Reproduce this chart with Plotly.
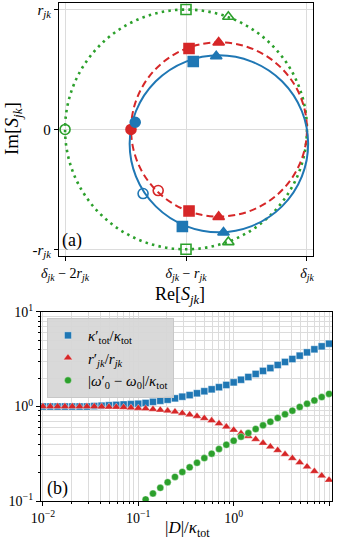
import plotly.graph_objects as go

# ---- panel (a): circles in the complex plane (units of r_jk, delta_jk = 0)
circle_names = ["green", "red", "blue"]
circle_cx = [-1.0, -0.727, -0.728]
circle_cy = [0.0, 0.0, -0.12]
circle_r = [1.0, 0.727, 0.738]

green_x = [-2.0, -1.0, -1.0, -0.65, -0.65]
green_y = [0.0, 1.0, -1.0, 0.94, -0.94]
green_sym = ["circle-open", "square-open", "square-open", "triangle-up-open", "triangle-up-open"]

red_x = [-1.455, -0.975, -0.975, -0.73, -0.73, -1.23]
red_y = [0.0, 0.675, -0.68, 0.725, -0.73, -0.51]
red_sym = ["circle", "square", "square", "triangle-up", "triangle-up", "circle-open"]

blue_x = [-1.42, -0.94, -1.03, -0.75, -0.69, -1.355]
blue_y = [0.06, 0.567, -0.81, 0.61, -0.86, -0.535]
blue_sym = ["circle", "square", "square", "triangle-up", "triangle-up", "circle-open"]

# ---- panel (b): ratios vs |D|/kappa_tot
D_over_kappa = [0.0100, 0.01194, 0.01425, 0.01701, 0.02031, 0.02424, 0.02894, 0.03455,
                0.04125, 0.04924, 0.05878, 0.07017, 0.08377, 0.1000, 0.1194, 0.1425,
                0.1701, 0.2031, 0.2424, 0.2894, 0.3455, 0.4125, 0.4924, 0.5878,
                0.7017, 0.8377, 1.000, 1.194, 1.425, 1.701, 2.031, 2.424,
                2.894, 3.455, 4.125, 4.924, 5.878, 7.017, 8.377, 10.00]
kappa_ratio = [1.0, 1.0, 1.0, 1.0, 1.0, 1.0, 1.0, 1.01, 1.02, 1.03,
               1.04, 1.05, 1.06, 1.07, 1.09, 1.12, 1.15, 1.18, 1.22, 1.27,
               1.32, 1.38, 1.45, 1.52, 1.60, 1.69, 1.80, 1.92, 2.05, 2.21,
               2.38, 2.55, 2.75, 2.96, 3.18, 3.45, 3.74, 4.03, 4.33, 4.62]
r_ratio = [1.0, 1.0, 1.0, 1.0, 1.0, 1.0, 1.0, 1.0, 0.995, 0.99,
           0.985, 0.98, 0.97, 0.96, 0.95, 0.935, 0.92, 0.90, 0.88, 0.85,
           0.82, 0.79, 0.75, 0.71, 0.66, 0.61, 0.565, 0.52, 0.485, 0.45,
           0.41, 0.376, 0.344, 0.312, 0.283, 0.255, 0.231, 0.206, 0.185, 0.167]
shift_x = D_over_kappa[14:]
shift_ratio = [0.104, 0.120, 0.138, 0.158, 0.180, 0.203, 0.227, 0.254, 0.285, 0.317,
               0.355, 0.394, 0.434, 0.479, 0.524, 0.578, 0.632, 0.690, 0.755, 0.826,
               0.903, 0.989, 1.07, 1.16, 1.26, 1.36]

BLUE, RED, GREEN = "#1f77b4", "#d62728", "#2ca02c"
FONT = "Liberation Serif"
GRID = "#dcdcdc"

fig = go.Figure()

# circles drawn as shapes on the data axes
styles = {"green": dict(color=GREEN, width=2.6, dash="2.5px,4.2px"),
          "red": dict(color=RED, width=2, dash="7px,4px"),
          "blue": dict(color=BLUE, width=2, dash="solid")}
for name, cx, cy, r in zip(circle_names, circle_cx, circle_cy, circle_r):
    fig.add_shape(type="circle", xref="x", yref="y", x0=cx - r, x1=cx + r,
                  y0=cy - r, y1=cy + r, line=styles[name], layer="between")

for xs, ys, syms, col in [(green_x, green_y, green_sym, GREEN),
                          (red_x, red_y, red_sym, RED),
                          (blue_x, blue_y, blue_sym, BLUE)]:
    fig.add_trace(go.Scatter(x=xs, y=ys, mode="markers", showlegend=False,
                             marker=dict(symbol=syms, size=10, color=col,
                                         line=dict(color=col, width=1.6)),
                             xaxis="x", yaxis="y", cliponaxis=False))

mk_line = dict(color="rgba(255,255,255,0.6)", width=0.6)
fig.add_trace(go.Scatter(x=D_over_kappa, y=kappa_ratio, mode="markers",
                         name="<i>κ</i>′<sub>tot</sub>/<i>κ</i><sub>tot</sub>",
                         marker=dict(symbol="square", size=7, color=BLUE, line=mk_line),
                         xaxis="x2", yaxis="y2"))
fig.add_trace(go.Scatter(x=D_over_kappa, y=r_ratio, mode="markers",
                         name="<i>r</i>′<sub><i>jk</i></sub>/<i>r</i><sub><i>jk</i></sub>",
                         marker=dict(symbol="triangle-up", size=8, color=RED, line=mk_line),
                         xaxis="x2", yaxis="y2"))
fig.add_trace(go.Scatter(x=shift_x, y=shift_ratio, mode="markers",
                         name="|<i>ω</i>′<sub>0</sub> − <i>ω</i><sub>0</sub>|/<i>κ</i><sub>tot</sub>",
                         marker=dict(symbol="circle", size=7, color=GREEN, line=mk_line),
                         xaxis="x2", yaxis="y2"))


def axis(size, **kw):
    base = dict(showline=True, linecolor="black", linewidth=1.3, mirror=True,
                ticks="outside", ticklen=4, tickcolor="black", tickwidth=1,
                showgrid=True, gridcolor=GRID, gridwidth=1, zeroline=False,
                automargin=False, tickfont=dict(family=FONT, size=size, color="black"))
    base.update(kw)
    return base


def label(text, px, py, size, **kw):
    # place text centred on a pixel position of the 338x541 canvas
    return dict(text=text, x=px / 338, y=1 - py / 541, xref="paper", yref="paper",
                xanchor="center", yanchor="middle", showarrow=False,
                font=dict(family=FONT, size=size, color="black"), **kw)


minor_x = [m * 10.0 ** e for e in (-2, -1, 0) for m in range(2, 10)]
minor_y = [m * 10.0 ** e for e in (-1, 0) for m in range(2, 10)]
minor_style = dict(ticks="outside", ticklen=2, tickcolor="black", showgrid=True, gridcolor=GRID)

fig.update_layout(
    width=338, height=541, margin=dict(l=0, r=0, t=0, b=0),
    paper_bgcolor="white", plot_bgcolor="white",
    font=dict(family=FONT, size=15, color="black"),
    xaxis=axis(14, domain=[0.1746, 0.926], range=[-2.05, 0.05], anchor="y",
               tickvals=[-2, -1, 0],
               ticktext=["<i>δ<sub>jk</sub></i> − 2<i>r<sub>jk</sub></i>",
                         "<i>δ<sub>jk</sub></i> − <i>r<sub>jk</sub></i>",
                         "<i>δ<sub>jk</sub></i>"]),
    yaxis=axis(15, domain=[0.527, 0.9945], range=[-1.055, 1.055], anchor="x",
               tickvals=[-1, 0, 1],
               ticktext=["-<i>r<sub>jk</sub></i>", "0", "<i>r<sub>jk</sub></i>"]),
    xaxis2=axis(14, domain=[0.1213, 0.982], type="log", range=[-2.02, 1.03], anchor="y2",
                tickvals=[0.01, 0.1, 1, 10],
                ticktext=["10<sup>−2</sup>", "10<sup>−1</sup>", "10<sup>0</sup>", "10<sup>1</sup>"],
                minor=dict(tickvals=minor_x, **minor_style)),
    yaxis2=axis(14, domain=[0.0739, 0.4233], type="log", range=[-1, 1], anchor="x2",
                tickvals=[0.1, 1, 10],
                ticktext=["10<sup>−1</sup>", "10<sup>0</sup>", "10<sup>1</sup>"],
                minor=dict(tickvals=minor_y, **minor_style)),
    legend=dict(x=0.139, y=0.412, xanchor="left", yanchor="top",
                bgcolor="rgba(214,214,214,0.92)", bordercolor="#c8c8c8", borderwidth=1,
                font=dict(family=FONT, size=15), tracegroupgap=0),
    annotations=[
        label("Re[<i>S<sub>jk</sub></i>]", 180, 295, 18),
        label("Im[<i>S<sub>jk</sub></i>]", 13, 129, 19, textangle=-90),
        label("|<i>D</i>|/<i>κ</i><sub>tot</sub>", 187, 529, 17),
        label("(a)", 72, 240, 18),
        label("(b)", 57, 488, 18),
    ],
)

# the page body has a default 8px margin; drop it so the figure fills the window
fig.write_html("out.html", config={"displayModeBar": False},
               post_script="document.body.style.margin='0px';")
